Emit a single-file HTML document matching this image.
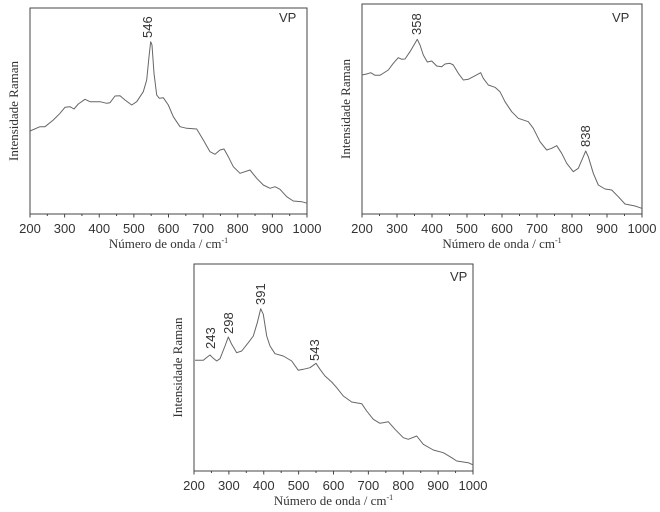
<!DOCTYPE html>
<html><head><meta charset="utf-8"><style>
html,body{margin:0;padding:0;background:#fff;width:660px;height:512px;overflow:hidden}
svg text{fill:#333}
.t{font-family:"Liberation Sans",sans-serif;font-size:13px}
.a{font-family:"Liberation Serif",serif;font-size:13px}
</style></head><body>
<svg id="s" width="660" height="512" xmlns="http://www.w3.org/2000/svg"></svg>
<script>
const S=document.getElementById('s');let h='';
const plots=[
 {L:30,T:8,R:307,B:214,ox:0,oy:0,pts:[[90,393],[120,380],[135,380],[160,360],[180,340],[195,322],[210,320],[222,327],[235,312],[255,298],[270,305],[300,305],[320,310],[330,308],[345,288],[360,287],[375,300],[395,315],[410,305],[430,275],[440,240],[447,170],[452,125],[456,135],[462,220],[470,285],[478,295],[490,293],[505,315],[520,350],[540,380],[560,385],[590,387],[610,420],[630,455],[645,463],[660,450],[672,447],[685,470],[700,500],[720,520],[750,510],[770,535],[790,555],[810,565],[825,560],[840,568],[860,590],[880,603],[905,605],[922,610]],
  labels:[[152,38,'546']],vp:[279,22]},
 {L:362,T:4,R:642,B:214,ox:330,oy:0,pts:[[95,225],[110,222],[122,218],[135,226],[150,226],[175,210],[190,190],[205,173],[215,178],[225,177],[240,155],[255,130],[262,118],[270,135],[280,165],[292,186],[305,183],[320,198],[335,200],[345,192],[360,190],[370,195],[385,220],[400,240],[415,238],[430,230],[452,218],[460,235],[475,255],[495,262],[510,275],[525,305],[545,335],[565,355],[595,365],[610,385],[630,425],[650,450],[665,445],[680,437],[695,460],[710,490],[730,515],[745,505],[760,470],[767,453],[775,470],[790,520],[805,555],[825,567],[845,570],[865,590],[885,612],[915,618],[935,625]],
  labels:[[421,35,'358'],[590,147,'838']],vp:[612,22]},
 {L:194,T:264,R:473,B:471,ox:170,oy:256,pts:[[75,313],[100,313],[112,303],[120,297],[128,305],[140,315],[150,308],[165,270],[175,243],[185,265],[200,290],[215,285],[235,260],[250,240],[262,200],[272,158],[280,175],[290,240],[300,270],[315,293],[340,300],[365,315],[385,343],[400,340],[420,335],[438,322],[450,340],[465,360],[485,378],[500,395],[520,420],[545,438],[575,443],[590,465],[610,490],[630,502],[655,497],[675,520],[700,545],[715,550],[740,540],[760,565],[790,582],[820,590],[845,605],[860,615],[895,620],[910,627]],
  labels:[[215,349,'243'],[233,334,'298'],[265,305,'391'],[319,361,'543']],vp:[450,281]}
];
for(const p of plots){
 h+=`<rect x="${p.L}" y="${p.T}" width="${p.R-p.L}" height="${p.B-p.T}" fill="none" stroke="#444" stroke-width="1"/>`;
 const w=p.R-p.L;
 for(let i=0;i<=16;i++){const x=p.L+w*i/16;const len=i%2?2:3.5;
  h+=`<line x1="${x}" y1="${p.B}" x2="${x}" y2="${p.B+len}" stroke="#444"/>`;
  if(i%2==0) h+=`<text class="t" x="${x}" y="${p.B+19}" text-anchor="middle">${200+i*50}</text>`;}
 const cx=(p.L+p.R)/2, cy=(p.T+p.B)/2;
 h+=`<text class="a" x="${cx}" y="${p.B+34}" text-anchor="middle">Número de onda / cm<tspan dy="-5" font-size="8">-1</tspan></text>`;
 h+=`<text class="a" font-size="15" transform="translate(${p.L-12},${cy}) rotate(-90)" text-anchor="middle">Intensidade Raman</text>`;
 h+=`<polyline fill="none" stroke="#666" stroke-width="1" stroke-linejoin="round" points="${p.pts.map(q=>(p.ox+q[0]/3).toFixed(1)+','+(p.oy+q[1]/3).toFixed(1)).join(' ')}"/>`;
 for(const l of p.labels) h+=`<text class="t" font-size="11" transform="translate(${l[0]},${l[1]}) rotate(-90)">${l[2]}</text>`;
 h+=`<text class="t" font-size="11" x="${p.vp[0]}" y="${p.vp[1]}">VP</text>`;
}
S.innerHTML=h;
</script>
</body></html>
